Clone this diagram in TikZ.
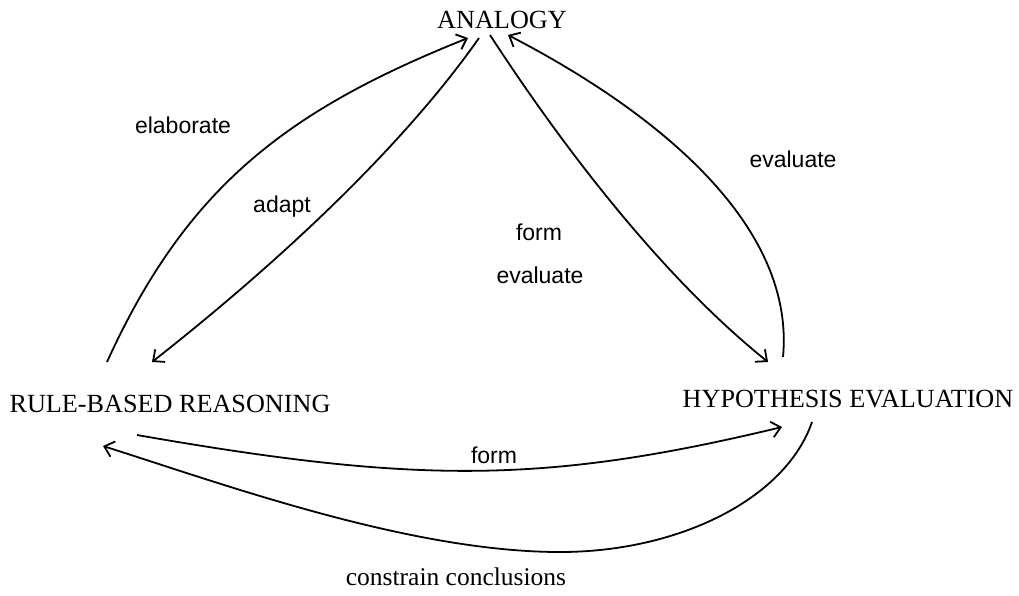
\documentclass[tikz,border=0pt]{standalone}
\usepackage{fontspec}
\setmainfont{Liberation Serif}
\newfontfamily\labfont{Liberation Sans}
\usetikzlibrary{arrows.meta,calc}
\tikzset{
  proc/.style={inner sep=0pt, anchor=base, font=\fontsize{26.2}{30}\selectfont},
  lab/.style={inner sep=0pt, anchor=base, font=\labfont\fontsize{23}{28}\selectfont},
  serlab/.style={inner sep=0pt, anchor=base, font=\fontsize{25.5}{30}\selectfont},
  conn/.style={line width=1.8pt, -{Straight Barb[length=9pt,width=16pt,line width=1.8pt]}}
}
\begin{document}
\begin{tikzpicture}[x=1pt,y=-1pt]
\useasboundingbox (0,0) rectangle (1019,595);
\node[proc] (ana) at (502,28) {ANALOGY};
\node[proc] (rbr) at (170,412) {RULE-BASED REASONING};
\node[proc] (hyp) at (848,407) {HYPOTHESIS EVALUATION};

\node[lab] (lelab) at (183,133) {elaborate};
\node[lab] (ladapt) at (282,212) {adapt};
\node[lab] (lform) at (539,240) {form};
\node[lab] (leval) at (540,283) {evaluate};
\node[lab] (levalr) at (793,167) {evaluate};
\node[lab] (lformb) at (494,463) {form};
\node[serlab] (lcons) at (456,585) {constrain conclusions};

% elaborate
\draw[conn] ($(rbr.base)+(-63,-50)$) .. controls (187,186) and (288,110) .. ($(ana.base)+(-34,10)$);
% adapt
\draw[conn] ($(ana.base)+(-23,10)$) .. controls (409,138) and (292,252) .. ($(rbr.base)+(-18,-50)$);
% form / evaluate
\draw[conn] ($(ana.base)+(-12,7)$) .. controls (555,135) and (656,272) .. ($(hyp.base)+(-80,-45)$);
% evaluate (right)
\draw[conn] ($(hyp.base)+(-65,-50)$) .. controls (795,230) and (668,118) .. ($(ana.base)+(6,7)$);
% form (bottom)
\draw[conn] ($(rbr.base)+(-33,23)$) .. controls (417,484) and (545,484) .. ($(hyp.base)+(-66,20)$);
% constrain conclusions
\coordinate (cmid) at (560,552);
\draw[conn] ($(hyp.base)+(-36,15)$) .. controls (786,498) and (680,552) .. (cmid)
  .. controls (410,552) and (223,484) .. ($(rbr.base)+(-67,34)$);
\end{tikzpicture}
\end{document}
